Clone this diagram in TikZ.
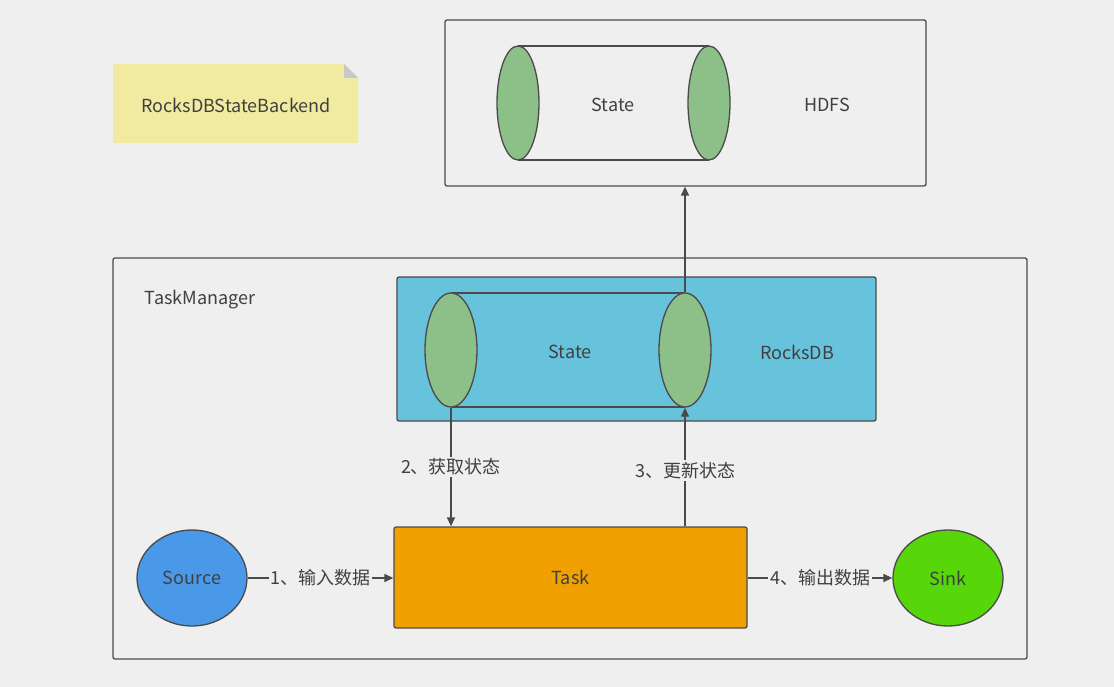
\documentclass[tikz,border=0pt]{standalone}
\usepackage{fontspec}
\setmainfont{Noto Sans CJK SC}
\usetikzlibrary{shapes.geometric,arrows.meta}
\definecolor{bgc}{HTML}{EFEFEF}
\definecolor{notec}{HTML}{F0EBA0}
\definecolor{foldc}{HTML}{C8C8CC}
\definecolor{greenc}{HTML}{8DBF88}
\definecolor{cyanc}{HTML}{67C3DC}
\definecolor{orangec}{HTML}{F0A000}
\definecolor{bluec}{HTML}{4A98E8}
\definecolor{sinkc}{HTML}{57D70A}
\definecolor{strokec}{HTML}{4A4A4A}
\definecolor{textc}{HTML}{404040}
\tikzset{
  txt/.style={text=textc,font=\fontsize{18}{22}\selectfont,inner sep=0pt},
  boxline/.style={draw=strokec,line width=1.3pt,rounded corners=2pt},
  capell/.style={ellipse,draw=strokec,line width=1.3pt,fill=greenc,inner sep=0pt},
  conn/.style={draw=strokec,line width=1.3pt,-{Triangle[length=9pt,width=8pt]}},
  lbl/.style={txt,fill=bgc,inner sep=2pt},
  circ/.style={ellipse,draw=strokec,line width=1.3pt,minimum width=110pt,minimum height=96pt,inner sep=0pt,text=textc,font=\fontsize{18}{22}\selectfont}
}
\begin{document}
\begin{tikzpicture}[x=1pt,y=-1pt]
\useasboundingbox (0,0) rectangle (1114,687);
\fill[bgc] (0,0) rectangle (1114,687);
% note
\fill[notec] (113,64) -- (344,64) -- (358,78) -- (358,143) -- (113,143) -- cycle;
\fill[foldc] (344,64) -- (358,78) -- (344,78) -- cycle;
\node[txt] (note) at (236,105) {RocksDBStateBackend};
% HDFS box
\node[boxline,minimum width=481pt,minimum height=166pt,inner sep=0pt] (hdfs) at (685.5,103) {};
\draw[strokec,line width=1.3pt] (518,46) -- (709,46) (518,160) -- (709,160);
\node[capell,minimum width=42pt,minimum height=114pt] (hl) at (518,103) {};
\node[capell,minimum width=42pt,minimum height=114pt] (hr) at (709,103) {};
\node[txt] (hstate) at (613,105) {State};
\node[txt] (hdfslbl) at (827,105) {HDFS};
% TaskManager
\node[boxline,minimum width=914pt,minimum height=401pt,inner sep=0pt] (tm) at (570,458.5) {};
\node[txt] (tmlbl) at (200,300) {TaskManager};
% RocksDB
\node[boxline,fill=cyanc,minimum width=479pt,minimum height=144pt,inner sep=0pt] (rdb) at (636.5,349) {};
\draw[strokec,line width=1.3pt] (451,293) -- (685,293) (451,407) -- (685,407);
\node[capell,minimum width=52pt,minimum height=114pt] (rl) at (451,350) {};
\node[capell,minimum width=52pt,minimum height=114pt] (rr) at (685,350) {};
\node[txt] (rstate) at (570,352) {State};
\node[txt] (rdblbl) at (797,352) {RocksDB};
% Task
\node[boxline,fill=orangec,minimum width=353pt,minimum height=101pt,inner sep=0pt,txt] (task) at (570.5,577.5) {Task};
% Source / Sink
\node[circ,fill=bluec] (src) at (192,578) {Source};
\node[circ,fill=sinkc] (sink) at (948,578) {Sink};
% connectors
\draw[conn] (src.east) -- node[lbl] {1、输入数据} (src.east -| task.west);
\draw[conn] (task.east |- sink.west) -- node[lbl] {4、输出数据} (sink.west);
\draw[conn] (rl.south) -- node[lbl,pos=0.5] {2、获取状态} (rl.south |- task.north);
\draw[conn] (rr.south |- task.north) -- node[lbl,pos=0.47] {3、更新状态} (rr.south);
\draw[conn] (rr.north) -- (rr.north |- hdfs.south);
\end{tikzpicture}
\end{document}
